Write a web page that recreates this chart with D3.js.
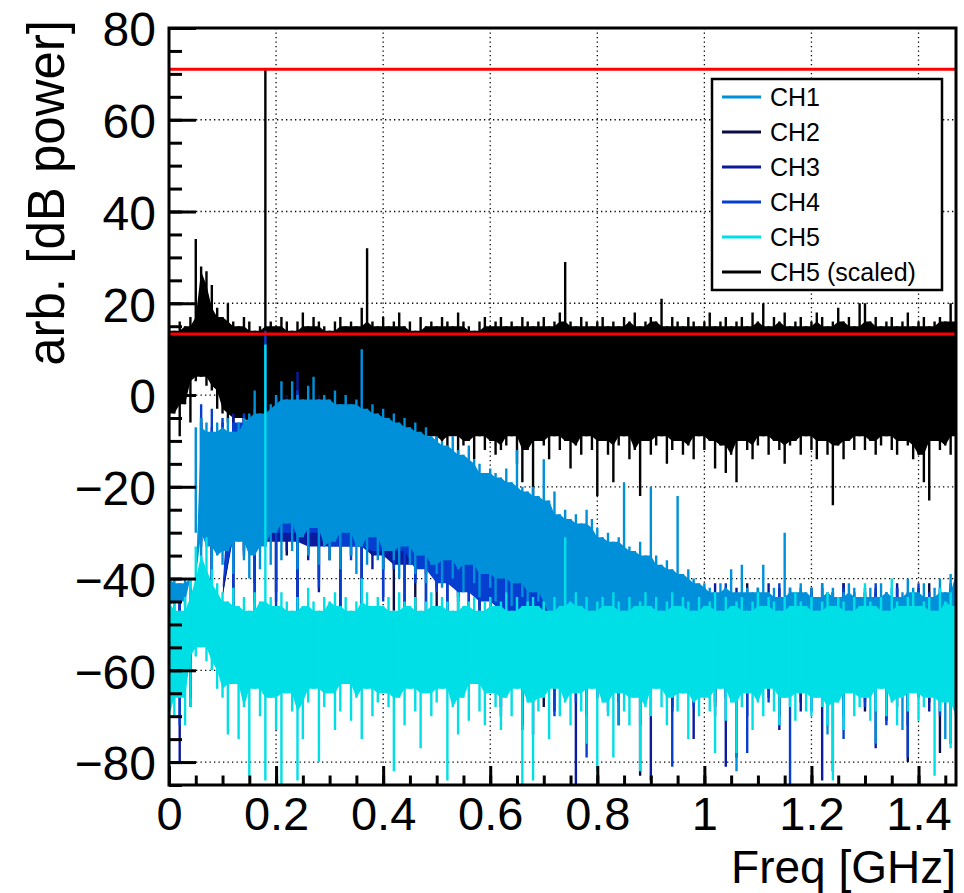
<!DOCTYPE html>
<html>
<head>
<meta charset="utf-8">
<script src="https://cdn.jsdelivr.net/npm/d3@7"></script>
<style>
  html, body { margin: 0; padding: 0; background: #fff; }
  svg { display: block; font-family: "Liberation Sans", Arial, Helvetica, sans-serif; }
</style>
</head>
<body>
<svg id="chart" width="964" height="893"></svg>
<script>
// ── Data ─────────────────────────────────────────────────────────────────────

const freqDomain  = [0, 1.47];
const powerDomain = [-85, 80];
const xTicks = [0, 0.2, 0.4, 0.6, 0.8, 1, 1.2, 1.4];
const yTicks = [-80, -60, -40, -20, 0, 20, 40, 60, 80];
const thresholds = [71, 13.3];

// bin width in GHz; each bin keeps the local max (hi) and min (lo) of the trace
const binFine   = 0.01;
const binCoarse = 0.02;

const ch5ScaledHi = [
  15, 14, 16, 15, 17, 34, 28, 27, 24, 19,
  17, 20, 16, 15, 17, 16, 14, 15, 71, 16,
  15, 17, 16, 14, 16, 18, 15, 17, 16, 15,
  14, 16, 17, 15, 16, 15, 19, 32, 16, 15,
  17, 15, 16, 18, 15, 16, 14, 17, 15, 16,
  15, 17, 16, 15, 18, 16, 15, 14, 16, 17,
  15, 16, 17, 15, 16, 15, 17, 16, 15, 16,
  17, 15, 16, 18, 29, 16, 15, 17, 16, 15,
  16, 17, 15, 16, 15, 17, 16, 18, 15, 16,
  17, 16, 21, 15, 17, 16, 15, 17, 16, 15,
  16, 18, 15, 16, 17, 15, 16, 17, 15, 18,
  16, 20, 15, 17, 16, 18, 15, 16, 17, 15,
  16, 18, 17, 15, 16, 19, 16, 17, 15, 20,
  20, 16, 17, 15, 16, 17, 15, 16, 18, 15,
  16, 17, 15, 16, 17, 16, 20, 16
];
const ch5ScaledLo = [
  -14, -4, -9, -2, -6, 3, 4, 2, 1, -3,
  -4, -6, -8, -5, -9, -7, -6, -10, -8, -7,
  -9, -8, -11, -7, -10, -9, -8, -12, -9, -10,
  -8, -11, -9, -10, -7, -9, -12, -10, -8, -11,
  -9, -13, -10, -8, -14, -9, -11, -10, -15, -9,
  -12, -10, -16, -9, -13, -11, -10, -14, -9, -12,
  -10, -13, -12, -11, -9, -15, -19, -12, -22, -10,
  -11, -14, -9, -12, -10, -16, -11, -13, -9, -12,
  -22, -10, -13, -19, -11, -9, -14, -12, -22, -10,
  -13, -11, -9, -15, -12, -10, -13, -11, -14, -9,
  -12, -10, -16, -11, -17, -13, -19, -10, -12, -14,
  -11, -9, -13, -10, -12, -15, -11, -10, -13, -9,
  -12, -14, -10, -13, -24, -11, -14, -10, -12, -9,
  -12, -10, -13, -11, -9, -12, -13, -10, -11, -14,
  -13, -19, -23, -10, -12, -11, -13, -9
];

const ch1Hi = [
  -38, -40, -41, -40, -40, -7, -5, -6, -8, -6,
  -7, -5, -8, -6, -5, -4, 1, -4, -3, -2,
  0, 3, -1, 3, 0, -1, 2, 4, -1, 0,
  -1, 1, -2, 0, -2, -1, 10, -3, -2, -4,
  -3, -5, -4, -6, -5, -7, -6, -8, -7, -9,
  -9, -10, -11, -9, -12, -13, -11, -14, -15, -17,
  -16, -17, -18, -16, -19, -12, -20, -21, -20, -22,
  -14, -23, -21, -26, -25, -27, -26, -28, -25, -27,
  -29, -31, -30, -32, -31, -19, -33, -34, -32, -35,
  -20, -35, -37, -36, -38, -22, -39, -38, -40, -41,
  -41, -42, -43, -41, -42, -38, -43, -37, -42, -43,
  -42, -37, -43, -42, -44, -30, -42, -43, -41, -43,
  -42, -44, -41, -43, -42, -44, -43, -41, -42, -44,
  -43, -42, -44, -41, -43, -42, -44, -43, -40, -42,
  -43, -41, -44, -42, -40, -43, -39, -38
];
const ch1Lo = [
  -46, -47, -45, -46, -47, -30, -36, -33, -38, -35,
  -37, -34, -39, -32, -36, -40, -35, -38, -33, -37,
  -30, -36, -28, -34, -38, -31, -35, -29, -37, -33,
  -36, -32, -38, -30, -35, -39, -33, -37, -31, -36,
  -38, -34, -36, -40, -33, -37, -39, -35, -41, -37,
  -39, -42, -36, -40, -38, -43, -37, -41, -44, -39,
  -42, -45, -40, -43, -46, -41, -44, -47, -43, -45,
  -48, -52, -55, -50, -57, -53, -49, -56, -54, -51,
  -55, -50, -58, -52, -72, -54, -51, -57, -53, -56,
  -52, -58, -54, -50, -56, -53, -59, -55, -52, -57,
  -54, -51, -57, -53, -58, -55, -82, -52, -56, -54,
  -58, -53, -55, -51, -57, -54, -56, -52, -58, -55,
  -53, -57, -54, -74, -56, -52, -58, -55, -53, -57,
  -55, -52, -76, -54, -57, -53, -56, -73, -54, -58,
  -52, -56, -54, -57, -53, -75, -55, -56
];

const ch2Hi = [
  -42, -43, -44, -6, -8, -7, -5, -4, -3, -2,
  -1, 0, -1, -2, 0, -3, -2, -4, 8, -5,
  -6, -8, -9, -10, -12, -13, -15, -16, -18, -19,
  -21, -22, -24, -26, -28, -29, -31, -33, -35, -36,
  -38, -40, -41, -42, -43, -42, -44, -41, -43, -42,
  -44, -43, -42, -44, -41, -43, -45, -42, -44, -43,
  -42, -44, -43, -41, -44, -42, -43, -45, -42, -44,
  -43, -41, -44, -42, -43
];
const ch2Lo = [
  -55, -62, -58, -30, -44, -32, -47, -34, -41, -31,
  -43, -35, -48, -33, -40, -36, -46, -32, -49, -35,
  -38, -47, -36, -50, -39, -46, -41, -52, -43, -49,
  -60, -65, -58, -72, -62, -68, -59, -66, -63, -70,
  -64, -58, -67, -61, -83, -65, -60, -69, -62, -66,
  -59, -68, -63, -79, -61, -66, -64, -70, -60, -67,
  -65, -62, -82, -66, -60, -69, -63, -71, -64, -80,
  -62, -67, -78, -64, -66
];

const ch3Hi = [
  -43, -42, -44, -5, -7, -6, -4, -5, -3, -1,
  0, -2, 5, -1, -3, -2, -4, -3, -5, -6,
  -7, -9, -10, -11, -13, -14, -16, -17, -19, -20,
  -22, -23, -25, -27, -29, -30, -32, -34, -36, -37,
  -39, -41, -40, -43, -42, -44, -41, -43, -42, -44,
  -43, -41, -44, -42, -43, -45, -41, -44, -42, -43,
  -44, -42, -43, -41, -45, -43, -42, -44, -41, -43,
  -42, -44, -43, -41, -44
];
const ch3Lo = [
  -64, -80, -66, -33, -47, -31, -42, -35, -48, -32,
  -45, -34, -49, -36, -43, -33, -50, -35, -47, -38,
  -44, -37, -51, -40, -48, -42, -53, -44, -51, -46,
  -63, -70, -61, -67, -74, -60, -69, -64, -85, -62,
  -66, -61, -72, -64, -59, -84, -63, -68, -60, -75,
  -62, -67, -81, -64, -70, -61, -66, -73, -63, -69,
  -61, -84, -65, -70, -62, -67, -77, -63, -68, -72,
  -64, -69, -61, -76, -66
];

const ch4Hi = [
  -41, -43, -42, -2, -3, -5, -6, -4, -3, 14,
  -1, -2, 1, -3, -1, -4, -2, -5, -4, -6,
  -8, -9, -11, -12, -14, -15, -17, -18, -20, -21,
  -23, -24, -26, -28, -30, -31, -33, -35, -37, -38,
  -40, -42, -41, -43, -40, -44, -42, -43, -41, -44,
  -42, -43, -41, -44, -43, -42, -44, -41, -43, -42,
  -43, -41, -44, -42, -43, -44, -41, -43, -42, -44,
  -41, -43, -42, -44, -42
];
const ch4Lo = [
  -60, -72, -68, -32, -40, -34, -47, -31, -45, -33,
  -46, -30, -48, -35, -42, -33, -47, -36, -50, -34,
  -45, -38, -49, -41, -52, -43, -50, -45, -53, -47,
  -62, -68, -60, -73, -65, -61, -70, -64, -67, -79,
  -63, -69, -61, -66, -72, -64, -60, -81, -65, -68,
  -61, -70, -66, -63, -78, -62, -67, -64, -85, -65,
  -69, -63, -66, -75, -61, -68, -64, -72, -62, -79,
  -66, -63, -70, -65, -82
];

const ch5Hi = [
  -10, -45, -47, -44, -40, -33, -35, -31, -38, -41,
  -43, -45, -42, -46, -44, -47, -43, -45, 11, -44,
  -46, -43, -45, -47, -44, -46, -42, -45, -47, -44,
  -45, -43, -46, -44, -47, -45, -40, -43, -46, -44,
  -46, -44, -47, -43, -45, -46, -44, -47, -45, -43,
  -46, -44, -45, -47, -43, -46, -45, -44, -47, -45,
  -44, -46, -45, -43, -47, -44, -46, -45, -44, -46,
  -45, -47, -44, -46, -31, -45, -43, -46, -44, -47,
  -45, -44, -46, -43, -45, -47, -44, -46, -45, -43,
  -46, -44, -47, -45, -43, -46, -44, -45, -47, -44,
  -46, -45, -43, -47, -44, -46, -45, -44, -47, -45,
  -43, -46, -44, -45, -47, -44, -46, -43, -45, -46,
  -44, -47, -45, -43, -46, -44, -45, -47, -44, -46,
  -41, -45, -46, -44, -47, -40, -45, -46, -44, -43,
  -46, -45, -44, -47, -42, -45, -43, -46
];
const ch5Lo = [
  -85, -70, -66, -72, -68, -57, -55, -58, -60, -64,
  -66, -74, -63, -75, -68, -83, -64, -70, -84, -66,
  -73, -85, -65, -69, -84, -75, -67, -64, -80, -68,
  -65, -73, -69, -63, -71, -66, -75, -64, -70, -67,
  -65, -68, -82, -66, -72, -64, -69, -77, -65, -70,
  -67, -64, -84, -68, -74, -66, -71, -63, -69, -72,
  -65, -68, -73, -66, -70, -64, -85, -67, -84, -69,
  -66, -75, -64, -70, -67, -72, -65, -69, -76, -64,
  -82, -67, -70, -79, -65, -69, -72, -66, -82, -68,
  -70, -64, -68, -72, -66, -69, -65, -75, -67, -70,
  -66, -69, -78, -64, -71, -67, -78, -68, -65, -73,
  -67, -70, -64, -69, -72, -66, -68, -71, -65, -69,
  -70, -66, -68, -72, -84, -67, -73, -65, -70, -68,
  -66, -71, -69, -64, -70, -67, -72, -66, -69, -65,
  -71, -68, -66, -83, -69, -67, -77, -70
];

// draw order (bottom to top); reach = neighbouring bins counted in the dense core
const series = [
  { label: "CH5 (scaled)", color: "#000000", bin: binFine,   reach: 1, hi: ch5ScaledHi, lo: ch5ScaledLo },
  { label: "CH2",          color: "#0a0c46", bin: binCoarse, reach: 3, hi: ch2Hi,       lo: ch2Lo },
  { label: "CH3",          color: "#0c1a9e", bin: binCoarse, reach: 3, hi: ch3Hi,       lo: ch3Lo },
  { label: "CH4",          color: "#063ed0", bin: binCoarse, reach: 3, hi: ch4Hi,       lo: ch4Lo },
  { label: "CH1",          color: "#0090da", bin: binFine,   reach: 1, hi: ch1Hi,       lo: ch1Lo },
  { label: "CH5",          color: "#00dee6", bin: binFine,   reach: 1, hi: ch5Hi,       lo: ch5Lo }
];
const legendOrder = ["CH1", "CH2", "CH3", "CH4", "CH5", "CH5 (scaled)"];

// ── Layout ────────────────────────────────────────────────────────────────────

const frame = { left: 169, top: 28, right: 956, bottom: 785 };

const svg = d3.select("#chart");
svg.append("rect").attr("width", 964).attr("height", 893).attr("fill", "#fff");

const x = d3.scaleLinear().domain(freqDomain).range([frame.left, frame.right]);
const y = d3.scaleLinear().domain(powerDomain).range([frame.bottom, frame.top]);

svg.append("clipPath").attr("id", "plot-clip")
  .append("rect")
  .attr("x", frame.left).attr("y", frame.top)
  .attr("width", frame.right - frame.left).attr("height", frame.bottom - frame.top);

// ── Grid ──────────────────────────────────────────────────────────────────────

const grid = svg.append("g")
  .attr("stroke", "#000")
  .attr("stroke-width", 1.3)
  .attr("stroke-dasharray", "1.3,3.2");

grid.selectAll("line.gx")
  .data(xTicks.filter((d) => d > 0))
  .join("line")
  .attr("x1", (d) => x(d)).attr("x2", (d) => x(d))
  .attr("y1", frame.top).attr("y2", frame.bottom);

grid.selectAll("line.gy")
  .data(yTicks.filter((d) => d < 80))
  .join("line")
  .attr("x1", frame.left).attr("x2", frame.right)
  .attr("y1", (d) => y(d)).attr("y2", (d) => y(d));

// ── Traces ────────────────────────────────────────────────────────────────────

// the dense part of each trace: the range that all nearby bins cover
function coreBand(s) {
  return s.hi.map((h, i) => {
    const a = Math.max(0, i - s.reach);
    const b = Math.min(s.hi.length, i + s.reach + 1);
    const top = d3.min(s.hi.slice(a, b));
    const bottom = Math.min(top, d3.max(s.lo.slice(a, b)));
    return { f: i * s.bin, top, bottom };
  });
}

// one vertical stroke per bin, from its min up to its max
function spikePath(s) {
  const p = d3.path();
  s.hi.forEach((h, i) => {
    p.moveTo(x(i * s.bin), y(h));
    p.lineTo(x(i * s.bin), y(s.lo[i]));
  });
  return p.toString();
}

const area = d3.area()
  .x((d) => x(d.f))
  .y0((d) => y(d.bottom))
  .y1((d) => y(d.top));

const traces = svg.append("g")
  .attr("clip-path", "url(#plot-clip)")
  .selectAll("g")
  .data(series)
  .join("g");

traces.append("path")
  .attr("d", (s) => area(coreBand(s)))
  .attr("fill", (s) => s.color);

traces.append("path")
  .attr("d", spikePath)
  .attr("fill", "none")
  .attr("stroke", (s) => s.color)
  .attr("stroke-width", 2.4);

svg.append("g")
  .selectAll("line")
  .data(thresholds)
  .join("line")
  .attr("x1", frame.left).attr("x2", frame.right)
  .attr("y1", (d) => y(d)).attr("y2", (d) => y(d))
  .attr("stroke", "#ff0000")
  .attr("stroke-width", 3);

// ── Axes ──────────────────────────────────────────────────────────────────────

function styleAxis(g) {
  g.select(".domain").remove();
  g.selectAll(".tick line").attr("stroke", "#000").attr("stroke-width", 3);
  g.selectAll(".tick text")
    .attr("fill", "#000")
    .style("font-size", "47px")
    .style("font-family", "'Liberation Sans', Arial, Helvetica, sans-serif");
}

function dropLabels(g) {
  g.selectAll(".tick text").remove();
}

const xMinor = d3.range(0, 1.4501, 0.05);
const yMinor = d3.range(-85, 80.01, 5);

svg.append("g")
  .attr("transform", `translate(0,${frame.bottom})`)
  .call(d3.axisBottom(x).tickValues(xMinor).tickSize(-9.5))
  .call(styleAxis)
  .call(dropLabels);

svg.append("g")
  .attr("transform", `translate(0,${frame.bottom})`)
  .call(d3.axisBottom(x).tickValues(xTicks).tickSize(-19).tickPadding(12)
    .tickFormat(d3.format("~g")))
  .call(styleAxis);

svg.append("g")
  .attr("transform", `translate(${frame.left},0)`)
  .call(d3.axisLeft(y).tickValues(yMinor).tickSize(-13))
  .call(styleAxis)
  .call(dropLabels);

svg.append("g")
  .attr("transform", `translate(${frame.left},0)`)
  .call(d3.axisLeft(y).tickValues(yTicks).tickSize(-27).tickPadding(13)
    .tickFormat(d3.format("d")))
  .call(styleAxis)
  .call((g) => g.selectAll(".tick text").attr("dy", "0.37em").style("font-size", "48px"));

svg.append("rect")
  .attr("x", frame.left).attr("y", frame.top)
  .attr("width", frame.right - frame.left).attr("height", frame.bottom - frame.top)
  .attr("fill", "none")
  .attr("stroke", "#000")
  .attr("stroke-width", 3);

// ── Titles ────────────────────────────────────────────────────────────────────

svg.append("text")
  .attr("x", 956).attr("y", 883)
  .attr("text-anchor", "end")
  .style("font-size", "46px")
  .text("Freq [GHz]");

svg.append("text")
  .attr("transform", "translate(64,20) rotate(-90)")
  .attr("text-anchor", "end")
  .style("font-size", "51px")
  .text("arb. [dB power]");

// ── Legend ────────────────────────────────────────────────────────────────────

const legend = svg.append("g");

legend.append("rect")
  .attr("x", 712).attr("y", 79)
  .attr("width", 230).attr("height", 211)
  .attr("fill", "#fff")
  .attr("stroke", "#000")
  .attr("stroke-width", 2.5);

const rows = legend.selectAll("g.row")
  .data(legendOrder.map((label) => series.find((s) => s.label === label)))
  .join("g")
  .attr("transform", (d, i) => `translate(0,${97 + i * 35})`);

rows.append("line")
  .attr("x1", 722).attr("x2", 761)
  .attr("stroke", (d) => d.color)
  .attr("stroke-width", 3);

rows.append("text")
  .attr("x", 770).attr("dy", "0.36em")
  .style("font-size", "25px")
  .text((d) => d.label);
</script>
</body>
</html>
